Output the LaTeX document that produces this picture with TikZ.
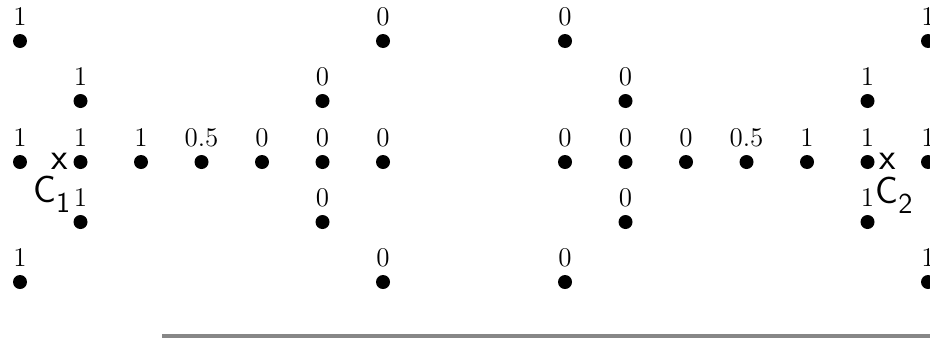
\documentclass[tikz,border=0pt]{standalone}
\begin{document}
\begin{tikzpicture}[x=0.5pt,y=-0.5pt,
  grid pt/.style={circle,fill=black,inner sep=0pt,minimum size=7pt},
  val/.style={label={[label distance=1.8pt,inner sep=2pt,font=\fontsize{13.5}{15}\selectfont]above:#1}},
  corner/.style={font=\sffamily\fontsize{19}{22}\selectfont,inner sep=0pt}]
\useasboundingbox (0,0) rectangle (930,338);
% left cross
\foreach \x/\y/\v/\n in {20/41/1/l1, 383/41/0/l2, 80.5/101/1/l3, 322.5/101/0/l4,
  20/162/1/l5, 80.5/162/1/l6, 141/162/1/l7, 201.5/162/0.5/l8, 262/162/0/l9,
  322.5/162/0/l10, 383/162/0/l11, 80.5/222/1/l12, 322.5/222/0/l13,
  20/282/1/l14, 383/282/0/l15}
  \node[grid pt,val=\v] (\n) at (\x,\y) {};
% right cross
\foreach \x/\y/\v/\n in {565/41/0/r1, 928/41/1/r2, 625.5/101/0/r3, 867.5/101/1/r4,
  565/162/0/r5, 625.5/162/0/r6, 686/162/0/r7, 746.5/162/0.5/r8, 807/162/1/r9,
  867.5/162/1/r10, 928/162/1/r11, 625.5/222/0/r12, 867.5/222/1/r13,
  565/282/0/r14, 928/282/1/r15}
  \node[grid pt,val=\v] (\n) at (\x,\y) {};
% centres
\node[corner] (x1) at (60,161) {x};
\node[corner,anchor=base west] (c1) at (33,202) {C\raisebox{-5pt}{\Large 1}};
\node[corner] (x2) at (888,161) {x};
\node[corner,anchor=base west] (c2) at (875,203) {C\raisebox{-5pt}{\Large 2}};
\fill[black!47] (162,334) rectangle (930,338);
\end{tikzpicture}
\end{document}
